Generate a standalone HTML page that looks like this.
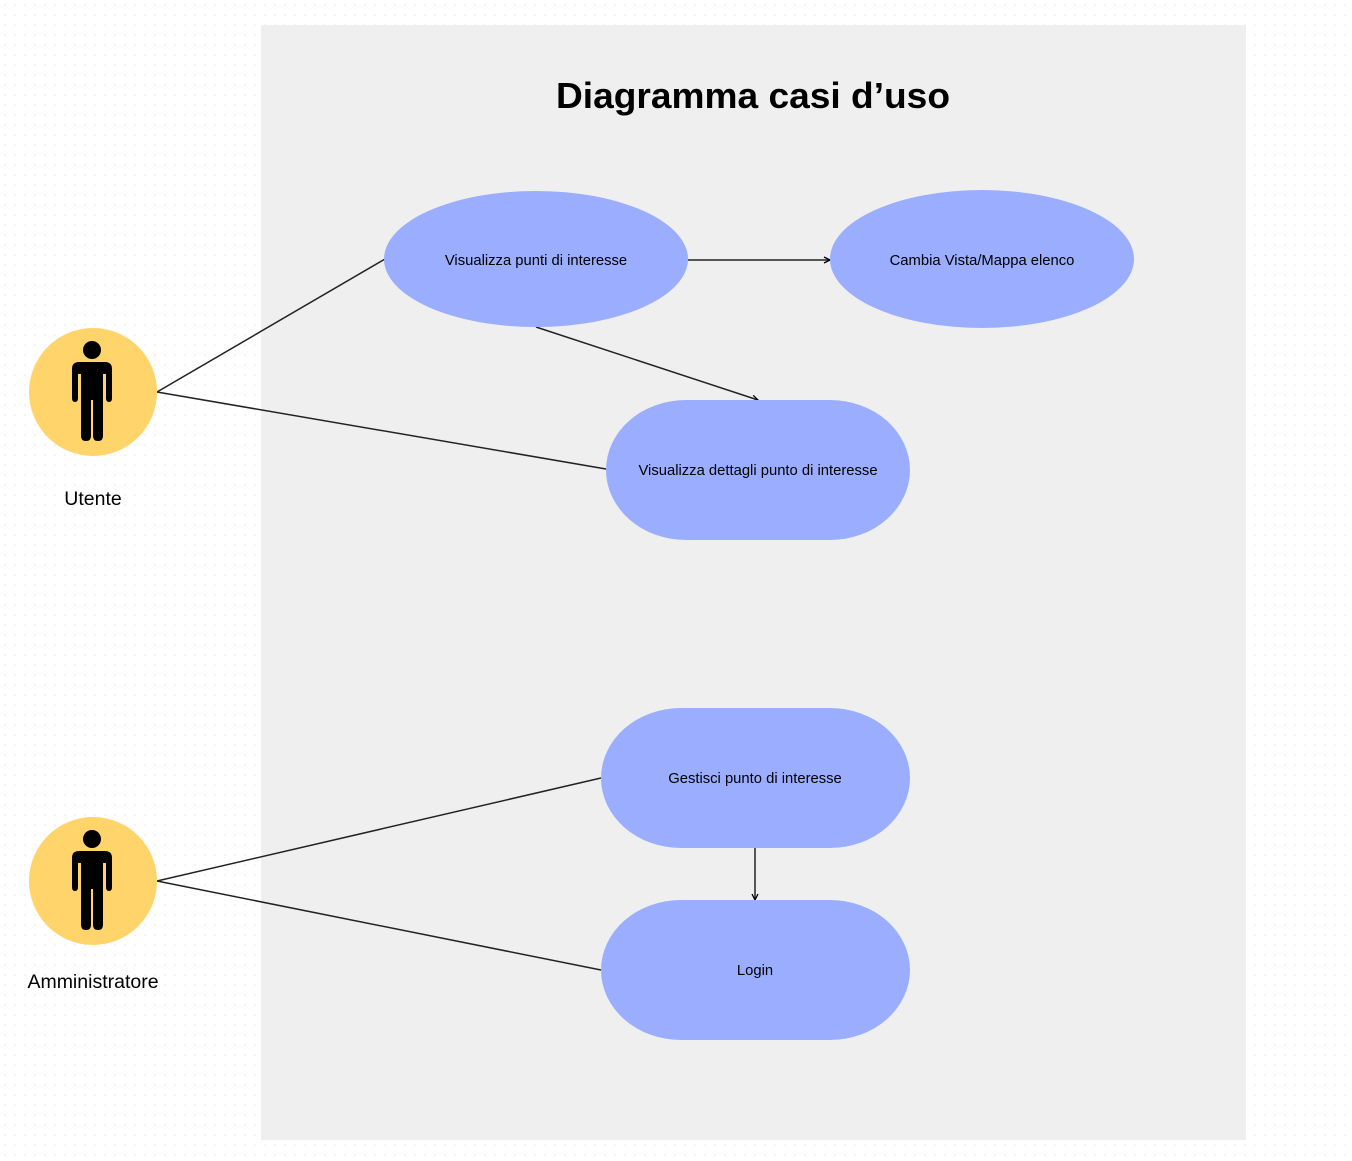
<!DOCTYPE html>
<html><head><meta charset="utf-8"><style>
html,body{margin:0;padding:0;background:#fff}
svg{display:block}
text{font-family:"Liberation Sans",sans-serif;fill:#000}
</style></head><body>
<svg width="1352" height="1161" viewBox="0 0 1352 1161" xmlns="http://www.w3.org/2000/svg">
<defs>
<pattern id="dots" width="10" height="10" patternUnits="userSpaceOnUse"><circle cx="5" cy="5" r="0.8" fill="#e6e6e6"/></pattern>
<marker id="ar" markerWidth="8" markerHeight="8" refX="7" refY="4" orient="auto" markerUnits="userSpaceOnUse"><path d="M1,1 L7,4 L1,7" fill="none" stroke="#000" stroke-width="1.3"/></marker>
<g id="person">
<circle cx="0" cy="-42" r="9" fill="#000"/>
<path d="M-13,-30 H13 Q20,-30 20,-23 V6 Q20,10 17,10 Q14,10 14,6 V-18 H11 V44 Q11,49 6,49 Q1,49 1,44 V8 H-1 V44 Q-1,49 -6,49 Q-11,49 -11,44 V-18 H-14 V6 Q-14,10 -17,10 Q-20,10 -20,6 V-23 Q-20,-30 -13,-30 Z" fill="#000"/>
</g>
</defs>
<rect width="1352" height="1161" fill="url(#dots)"/>
<rect x="261" y="25" width="985" height="1115" fill="#efefef"/>
<text x="753" y="108" font-size="36" font-weight="bold" text-anchor="middle" textLength="394" lengthAdjust="spacingAndGlyphs">Diagramma casi d’uso</text>

<g stroke="#222" stroke-width="1.5" fill="none">
<line x1="157" y1="392" x2="385" y2="259"/>
<line x1="157" y1="392" x2="606" y2="469"/>
<line x1="157" y1="881" x2="601" y2="778"/>
<line x1="157" y1="881" x2="601" y2="970"/>
<line x1="688" y1="260" x2="830" y2="260" marker-end="url(#ar)"/>
<line x1="536" y1="327" x2="758" y2="400" marker-end="url(#ar)"/>
<line x1="755" y1="848" x2="755" y2="900" marker-end="url(#ar)"/>
</g>

<g fill="#9aadff">
<ellipse cx="536" cy="259" rx="152" ry="68"/>
<ellipse cx="982" cy="259" rx="152" ry="69"/>
<path d="M686,400 H830 A80,70 0 0 1 830,540 H686 A80,70 0 0 1 686,400 Z"/>
<path d="M681,708 H830 A80,70 0 0 1 830,848 H681 A80,70 0 0 1 681,708 Z"/>
<path d="M681,900 H830 A80,70 0 0 1 830,1040 H681 A80,70 0 0 1 681,900 Z"/>
</g>
<g font-size="14.8" text-anchor="middle">
<text x="536" y="265">Visualizza punti di interesse</text>
<text x="982" y="265">Cambia Vista/Mappa elenco</text>
<text x="758" y="475">Visualizza dettagli punto di interesse</text>
<text x="755" y="783">Gestisci punto di interesse</text>
<text x="755" y="975">Login</text>
</g>

<circle cx="93" cy="392" r="64" fill="#ffd46b"/>
<use href="#person" x="92" y="392"/>
<circle cx="93" cy="881" r="64" fill="#ffd46b"/>
<use href="#person" x="92" y="881"/>
<text x="93" y="505" font-size="19.5" text-anchor="middle">Utente</text>
<text x="93" y="988" font-size="19.5" text-anchor="middle">Amministratore</text>
</svg>
</body></html>
